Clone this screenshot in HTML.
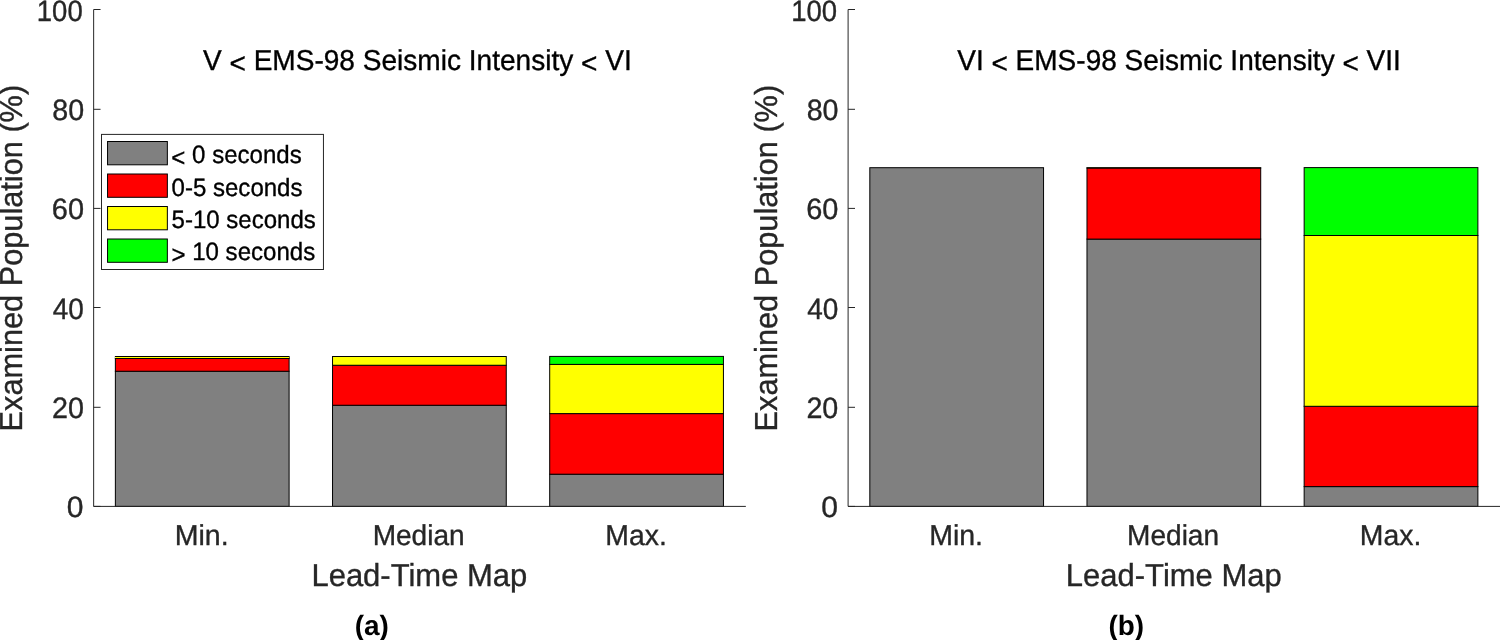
<!DOCTYPE html>
<html lang="en">
<head>
<meta charset="utf-8">
<title>Examined Population vs Lead-Time Map</title>
<style>
html,body{margin:0;padding:0;background:#fff;}
body{width:1500px;height:640px;overflow:hidden;}
svg{display:block;}
text{font-family:"Liberation Sans",Arial,Helvetica,sans-serif;text-rendering:geometricPrecision;stroke-width:0.35px;}
.tk,.lb{stroke:#262626;}
.tt,.lg{stroke:#000;}
.tk{fill:#262626;}
.lb{fill:#262626;}
.tt{fill:#000;}
.lg{fill:#000;}
.cap{font-weight:bold;fill:#000;}
</style>
</head>
<body>
<svg width="1500" height="640" viewBox="0 0 1500 640">
<rect x="0" y="0" width="1500" height="640" fill="#ffffff"/>

<g>
<rect x="115.37" y="371.25" width="173.73" height="135.15" fill="#808080" stroke="#000" stroke-width="1"/>
<rect x="115.37" y="358.50" width="173.73" height="12.75" fill="#ff0000" stroke="#000" stroke-width="1"/>
<rect x="115.37" y="356.50" width="173.73" height="2.00" fill="#ffff00" stroke="#000" stroke-width="1"/>
<rect x="115.37" y="356.50" width="173.73" height="0.00" fill="#00ff00" stroke="#000" stroke-width="1"/>
<rect x="332.53" y="405.25" width="173.73" height="101.15" fill="#808080" stroke="#000" stroke-width="1"/>
<rect x="332.53" y="365.25" width="173.73" height="40.00" fill="#ff0000" stroke="#000" stroke-width="1"/>
<rect x="332.53" y="356.50" width="173.73" height="8.75" fill="#ffff00" stroke="#000" stroke-width="1"/>
<rect x="332.53" y="356.50" width="173.73" height="0.00" fill="#00ff00" stroke="#000" stroke-width="1"/>
<rect x="549.70" y="474.20" width="173.73" height="32.20" fill="#808080" stroke="#000" stroke-width="1"/>
<rect x="549.70" y="413.60" width="173.73" height="60.60" fill="#ff0000" stroke="#000" stroke-width="1"/>
<rect x="549.70" y="364.40" width="173.73" height="49.20" fill="#ffff00" stroke="#000" stroke-width="1"/>
<rect x="549.70" y="356.40" width="173.73" height="8.00" fill="#00ff00" stroke="#000" stroke-width="1"/>
<path d="M93.65 9.50 V506.40 H745.85" fill="none" stroke="#262626" stroke-width="1"/>
<path d="M93.65 506.40 h6.9" fill="none" stroke="#262626" stroke-width="1"/>
<text class="tk" font-size="29.40" transform="translate(66.77 517.40) scale(1.0222 1.0000)">0</text>
<path d="M93.65 407.30 h6.9" fill="none" stroke="#262626" stroke-width="1"/>
<text class="tk" font-size="29.40" transform="translate(51.94 418.30) scale(0.9763 1.0000)">20</text>
<path d="M93.65 307.50 h6.9" fill="none" stroke="#262626" stroke-width="1"/>
<text class="tk" font-size="29.40" transform="translate(52.75 318.50) scale(0.9508 1.0000)">40</text>
<path d="M93.65 208.40 h6.9" fill="none" stroke="#262626" stroke-width="1"/>
<text class="tk" font-size="29.40" transform="translate(51.83 219.40) scale(0.9830 1.0000)">60</text>
<path d="M93.65 109.30 h6.9" fill="none" stroke="#262626" stroke-width="1"/>
<text class="tk" font-size="29.40" transform="translate(52.21 120.30) scale(0.9742 1.0000)">80</text>
<path d="M93.65 9.50 h6.9" fill="none" stroke="#262626" stroke-width="1"/>
<text class="tk" font-size="29.40" transform="translate(36.81 20.50) scale(0.9351 1.0000)">100</text>
<text class="tk" font-size="28.70" transform="translate(174.72 544.90) scale(0.9941 1.0000)">Min.</text>
<text class="tk" font-size="28.70" transform="translate(372.66 544.90) scale(0.9772 1.0000)">Median</text>
<text class="tk" font-size="28.70" transform="translate(605.33 544.90) scale(0.9894 1.0000)">Max.</text>
<text class="lb" font-size="31.80" transform="translate(311.42 585.60) scale(0.9745 1.0000)">Lead-Time Map</text>
<text class="lb" font-size="31.80" transform="translate(22.30 431.46) rotate(-90) scale(0.9661 1.0000)">Examined Population (%)</text>
<text class="tt" font-size="28.80" transform="translate(202.93 69.80) scale(0.9742 1.0000)">V <tspan dy="3.02">&lt;</tspan><tspan dy="-3.02"> EMS-98 Seismic Intensity </tspan><tspan dy="3.02">&lt;</tspan><tspan dy="-3.02"> VI</tspan></text>
<text class="cap" font-size="27.80" transform="translate(354.71 634.80) scale(1.0059 1.0000)">(a)</text>
</g>
<g>
<rect x="869.82" y="167.70" width="173.73" height="338.70" fill="#808080" stroke="#000" stroke-width="1"/>
<rect x="869.82" y="167.70" width="173.73" height="0.00" fill="#ff0000" stroke="#000" stroke-width="1"/>
<rect x="869.82" y="167.70" width="173.73" height="0.00" fill="#ffff00" stroke="#000" stroke-width="1"/>
<rect x="869.82" y="167.70" width="173.73" height="0.00" fill="#00ff00" stroke="#000" stroke-width="1"/>
<rect x="1086.98" y="239.10" width="173.73" height="267.30" fill="#808080" stroke="#000" stroke-width="1"/>
<rect x="1086.98" y="168.00" width="173.73" height="71.10" fill="#ff0000" stroke="#000" stroke-width="1"/>
<rect x="1086.98" y="167.70" width="173.73" height="0.30" fill="#ffff00" stroke="#000" stroke-width="1"/>
<rect x="1086.98" y="167.70" width="173.73" height="0.00" fill="#00ff00" stroke="#000" stroke-width="1"/>
<rect x="1304.15" y="486.60" width="173.73" height="19.80" fill="#808080" stroke="#000" stroke-width="1"/>
<rect x="1304.15" y="406.30" width="173.73" height="80.30" fill="#ff0000" stroke="#000" stroke-width="1"/>
<rect x="1304.15" y="235.50" width="173.73" height="170.80" fill="#ffff00" stroke="#000" stroke-width="1"/>
<rect x="1304.15" y="167.60" width="173.73" height="67.90" fill="#00ff00" stroke="#000" stroke-width="1"/>
<path d="M848.10 9.50 V506.40 H1500.30" fill="none" stroke="#262626" stroke-width="1"/>
<path d="M848.10 506.40 h6.9" fill="none" stroke="#262626" stroke-width="1"/>
<text class="tk" font-size="29.40" transform="translate(821.22 517.40) scale(1.0222 1.0000)">0</text>
<path d="M848.10 407.30 h6.9" fill="none" stroke="#262626" stroke-width="1"/>
<text class="tk" font-size="29.40" transform="translate(806.39 418.30) scale(0.9763 1.0000)">20</text>
<path d="M848.10 307.50 h6.9" fill="none" stroke="#262626" stroke-width="1"/>
<text class="tk" font-size="29.40" transform="translate(807.20 318.50) scale(0.9508 1.0000)">40</text>
<path d="M848.10 208.40 h6.9" fill="none" stroke="#262626" stroke-width="1"/>
<text class="tk" font-size="29.40" transform="translate(806.28 219.40) scale(0.9830 1.0000)">60</text>
<path d="M848.10 109.30 h6.9" fill="none" stroke="#262626" stroke-width="1"/>
<text class="tk" font-size="29.40" transform="translate(806.66 120.30) scale(0.9742 1.0000)">80</text>
<path d="M848.10 9.50 h6.9" fill="none" stroke="#262626" stroke-width="1"/>
<text class="tk" font-size="29.40" transform="translate(791.26 20.50) scale(0.9351 1.0000)">100</text>
<text class="tk" font-size="28.70" transform="translate(929.17 544.90) scale(0.9941 1.0000)">Min.</text>
<text class="tk" font-size="28.70" transform="translate(1127.11 544.90) scale(0.9772 1.0000)">Median</text>
<text class="tk" font-size="28.70" transform="translate(1359.78 544.90) scale(0.9894 1.0000)">Max.</text>
<text class="lb" font-size="31.80" transform="translate(1065.87 585.60) scale(0.9745 1.0000)">Lead-Time Map</text>
<text class="lb" font-size="31.80" transform="translate(776.75 431.46) rotate(-90) scale(0.9661 1.0000)">Examined Population (%)</text>
<text class="tt" font-size="28.80" transform="translate(957.23 69.80) scale(0.9724 1.0000)">VI <tspan dy="3.02">&lt;</tspan><tspan dy="-3.02"> EMS-98 Seismic Intensity </tspan><tspan dy="3.02">&lt;</tspan><tspan dy="-3.02"> VII</tspan></text>
<text class="cap" font-size="27.80" transform="translate(1108.51 634.80) scale(1.0048 1.0000)">(b)</text>
</g>
<g>
<rect x="101.5" y="134.4" width="221.95" height="135.1" fill="#fff" stroke="#262626" stroke-width="1"/>
<rect x="107.55" y="141.50" width="59.8" height="23.3" fill="#808080" stroke="#000" stroke-width="1"/>
<text class="lg" font-size="25.00" transform="translate(171.37 163.20) scale(0.9616 1.0000)"><tspan dy="2.62">&lt;</tspan><tspan dy="-2.62"> 0 seconds</tspan></text>
<rect x="107.55" y="174.00" width="59.8" height="23.3" fill="#ff0000" stroke="#000" stroke-width="1"/>
<text class="lg" font-size="25.00" transform="translate(171.61 195.60) scale(0.9608 1.0000)">0-5 seconds</text>
<rect x="107.55" y="206.50" width="59.8" height="23.3" fill="#ffff00" stroke="#000" stroke-width="1"/>
<text class="lg" font-size="25.00" transform="translate(171.61 227.90) scale(0.9602 1.0000)">5-10 seconds</text>
<rect x="107.55" y="239.00" width="59.8" height="23.3" fill="#00ff00" stroke="#000" stroke-width="1"/>
<text class="lg" font-size="25.00" transform="translate(171.47 260.30) scale(0.9616 1.0000)"><tspan dy="2.62">&gt;</tspan><tspan dy="-2.62"> 10 seconds</tspan></text>
</g>
</svg>
</body>
</html>
